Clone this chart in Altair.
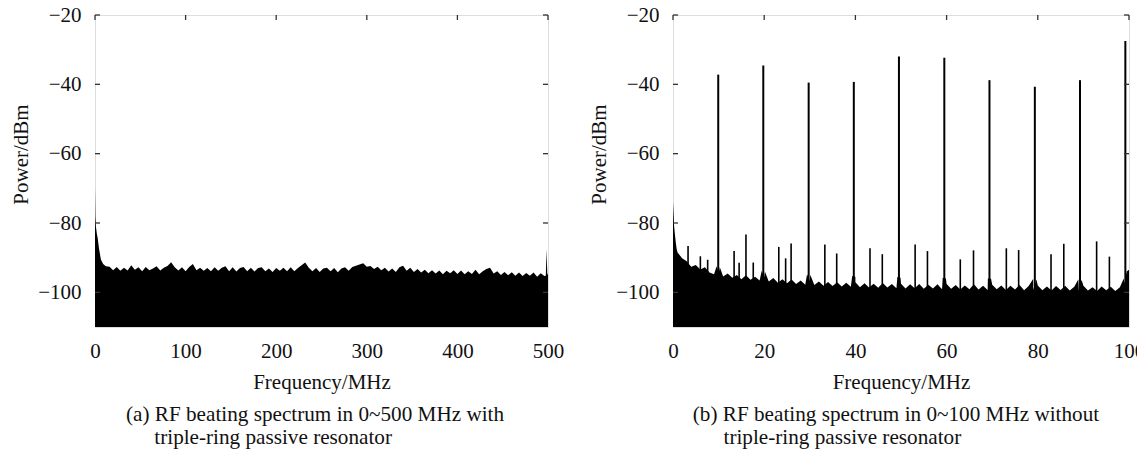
import altair as alt
import pandas as pd

FONT = "Liberation Serif"
FS = 21
CAP_FS = 21.2
INK = "#111111"
FRAME = "#333333"

# ---------------- panel (a): 0~500 MHz, with resonator ----------------
a_head_freq = [0, 0.4, 1, 2, 3, 4.5, 6.5, 9, 12]
a_head_power = [-70, -78, -81, -83, -84.5, -87.5, -90.5, -91.8, -92.5]
a_floor_freq = list(range(16, 497, 4))
a_floor_power = [
    -92.6, -93.6, -92.7, -93.8, -92.9, -93.7, -92.2, -93.5, -92.8, -93.9,
    -92.7, -93.6, -93.1, -92.5, -93.7, -92.9, -92.4, -91.3, -92.8, -93.7,
    -92.8, -93.9, -92.7, -91.8, -93.6, -92.9, -93.8, -93.0, -93.9, -92.8,
    -93.8, -92.9, -92.5, -93.9, -92.8, -94.0, -93.0, -92.7, -93.9, -92.9,
    -94.0, -93.0, -92.8, -93.9, -93.1, -94.1, -93.0, -93.8, -92.9, -93.9,
    -92.8, -93.9, -93.0, -92.2, -91.4, -92.9, -93.9, -93.0, -94.1, -93.1,
    -92.9, -93.9, -93.0, -94.2, -93.1, -92.8, -93.8, -92.7, -92.3, -92.0,
    -91.6, -92.6, -92.4, -93.3, -92.6, -93.6, -92.9, -94.0, -93.1, -94.1,
    -92.8, -92.3, -93.8, -92.9, -94.1, -93.3, -94.3, -93.5, -94.5, -93.6,
    -94.6, -93.7, -94.8, -93.8, -94.5, -93.6, -94.7, -93.7, -94.8, -93.9,
    -94.7, -93.5, -94.8, -93.9, -93.3, -92.9, -94.6, -93.9, -95.0, -94.1,
    -95.1, -94.2, -95.2, -94.3, -95.3, -94.4, -95.2, -94.3, -95.5, -94.5,
    -95.3,
]
a_tail_freq = [497.6, 498.4, 499.2, 500]
a_tail_power = [-95.2, -87.5, -94.6, -95.0]

# ---------------- panel (b): 0~100 MHz, without resonator ----------------
b_head_freq = [0, 0.15, 0.25, 0.4, 0.6, 0.8]
b_head_power = [-74, -78, -81, -83, -85.5, -87.5]
b_floor_freq = list(range(1, 100))
b_floor_power = [
    -88.5, -90.2, -91.0, -92.6, -92.1, -93.4, -92.8, -94.3, -94.8, -94.6,
    -95.4, -94.6, -95.8, -95.0, -96.2, -95.1, -96.4, -95.5, -96.6, -95.6,
    -96.9, -95.9, -97.2, -96.2, -97.4, -96.3, -97.6, -96.6, -97.8, -96.7,
    -97.9, -96.9, -98.1, -97.0, -98.2, -97.1, -98.3, -97.2, -98.4, -97.1,
    -98.5, -97.4, -98.6, -97.5, -98.7, -97.3, -98.6, -97.6, -98.8, -97.5,
    -98.9, -97.7, -98.8, -97.6, -99.0, -97.8, -98.9, -97.7, -99.1, -97.6,
    -99.0, -97.9, -99.2, -98.0, -99.1, -97.7, -99.2, -98.1, -99.3, -97.8,
    -99.1, -98.0, -99.3, -98.1, -99.2, -97.9, -99.4, -98.2, -99.3, -98.0,
    -99.4, -98.3, -99.5, -98.2, -99.3, -98.1, -99.5, -98.4, -99.4, -98.1,
    -99.5, -98.5, -99.6, -98.3, -99.4, -98.4, -99.6, -98.5, -97.5,
]
b_skirt_freq = [9.57, 10.27, 19.45, 20.15, 29.4, 30.1, 39.3, 40.0, 49.2, 49.9,
                59.15, 59.85, 69.05, 69.75, 79.0, 79.7, 88.9, 89.6, 98.85]
b_skirt_power = [-92.5, -92.8, -93.8, -94.0, -94.8, -94.9, -95.3, -95.5, -95.6, -95.8,
                 -95.8, -96.0, -96.0, -96.1, -96.1, -96.3, -96.2, -96.4, -96.0]
b_tail_freq = [99.5, 100]
b_tail_power = [-94.0, -93.5]

b_main_freq = [9.92, 19.8, 29.75, 39.65, 49.55, 59.5, 69.4, 79.35, 89.25, 99.2]
b_main_power = [-37.2, -34.6, -39.5, -39.3, -32.0, -32.3, -38.8, -40.7, -38.8, -27.5]
b_side_freq = [3.3, 6.0, 7.6, 13.4, 14.5, 16.0, 17.6, 23.2, 24.7, 25.9, 33.3, 35.9,
               43.2, 45.9, 53.1, 55.8, 63.0, 65.9, 73.1, 75.8, 82.9, 85.7, 92.9, 95.7]
b_side_power = [-86.6, -89.6, -90.6, -88.1, -91.5, -83.3, -91.4, -86.9, -90.2, -85.9, -86.2, -88.8,
                -87.3, -89.0, -86.2, -88.1, -90.5, -87.9, -87.3, -87.8, -89.0, -86.0, -85.3, -89.7]

a_xticks = [0, 100, 200, 300, 400, 500]
b_xticks = [0, 20, 40, 60, 80, 100]
y_ticks = [-20, -40, -60, -80, -100]
y_domain = [-110, -20]

a_caption = ["(a) RF beating spectrum in 0~500 MHz with", "triple-ring passive resonator"]
b_caption = ["(b) RF beating spectrum in 0~100 MHz without", "triple-ring passive resonator"]

H = 312


def spectrum_df(freq_lists, power_lists):
    f, p = [], []
    for fl, pl in zip(freq_lists, power_lists):
        f += list(fl)
        p += list(pl)
    return pd.DataFrame({"f": f, "p": p}).sort_values("f").reset_index(drop=True)


def panel(spec, peak_sets, xmax, xticks, width, caption, cap_x):
    x_enc = alt.X("f:Q", title="Frequency/MHz",
                  scale=alt.Scale(domain=[0, xmax], nice=False, zero=False),
                  axis=alt.Axis(values=xticks, format="d", ticks=False, tickSize=0, domain=False,
                                grid=False, labelFont=FONT, labelFontSize=FS, labelColor=INK,
                                labelPadding=13, labelOverlap=False, labelFlush=False,
                                titleFont=FONT, titleFontSize=FS, titleFontWeight="normal",
                                titleColor=INK, titleY=61,
                                titleBaseline="alphabetic", titleAlign="center"))
    y_enc = alt.Y("p:Q", title="Power/dBm",
                  scale=alt.Scale(domain=y_domain, nice=False, zero=False),
                  axis=alt.Axis(values=y_ticks, ticks=False, tickSize=0, domain=False, grid=False,
                                labelFont=FONT, labelFontSize=FS, labelColor=INK, labelPadding=14,
                                titleFont=FONT, titleFontSize=FS, titleFontWeight="normal",
                                titleColor=INK, titleX=-67.5, titleY=139, titleAngle=270,
                                titleBaseline="alphabetic", titleAlign="center"))
    layers = [
        alt.Chart(spec).mark_area(color="black", interpolate="linear")
        .encode(x=x_enc, y=y_enc, y2=alt.datum(-110))
    ]
    for df, sw in peak_sets:
        layers.append(alt.Chart(df).mark_rule(color="black", strokeWidth=sw)
                      .encode(x=x_enc, y=y_enc, y2=alt.datum(-110)))
    xt = pd.DataFrame({"f": xticks})
    yt = pd.DataFrame({"p": y_ticks})
    tick = dict(color=FRAME, strokeWidth=1.3)
    layers += [
        alt.Chart(xt).mark_rule(**tick).encode(x=x_enc, y=alt.value(0), y2=alt.value(5)),
        alt.Chart(yt).mark_rule(**tick).encode(y=y_enc, x=alt.value(0), x2=alt.value(5)),
        alt.Chart(yt).mark_rule(**tick).encode(y=y_enc, x=alt.value(width - 5), x2=alt.value(width)),
    ]
    cap_y = [406, 429]
    for line, cx, cy in zip(caption, cap_x, cap_y):
        layers.append(
            alt.Chart(pd.DataFrame({"c": [line]}))
            .mark_text(align="left", baseline="alphabetic", font=FONT, fontSize=CAP_FS, color=INK)
            .encode(text="c:N", x=alt.value(cx), y=alt.value(cy))
        )
    return alt.layer(*layers).properties(width=width, height=H)


a_spec = spectrum_df([a_head_freq, a_floor_freq, a_tail_freq],
                     [a_head_power, a_floor_power, a_tail_power])
b_spec = spectrum_df([b_head_freq, b_floor_freq, b_skirt_freq, b_tail_freq],
                     [b_head_power, b_floor_power, b_skirt_power, b_tail_power])
b_main = pd.DataFrame({"f": b_main_freq, "p": b_main_power})
b_side = pd.DataFrame({"f": b_side_freq, "p": b_side_power})

pa = panel(a_spec, [], 500, a_xticks, 453, a_caption, [31, 59.3])
pb = panel(b_spec, [(b_side, 1.6), (b_main, 2.0)], 100, b_xticks, 456, b_caption, [19.8, 50.5])

chart = (
    alt.hconcat(pa, pb, spacing=23)
    .properties(padding={"left": 2, "top": -5, "right": -9, "bottom": 0})
    .configure_view(stroke=FRAME, strokeWidth=1.3)
    .configure(background="white")
)

chart.save("out.html", embed_options={"renderer": "svg", "actions": False})
